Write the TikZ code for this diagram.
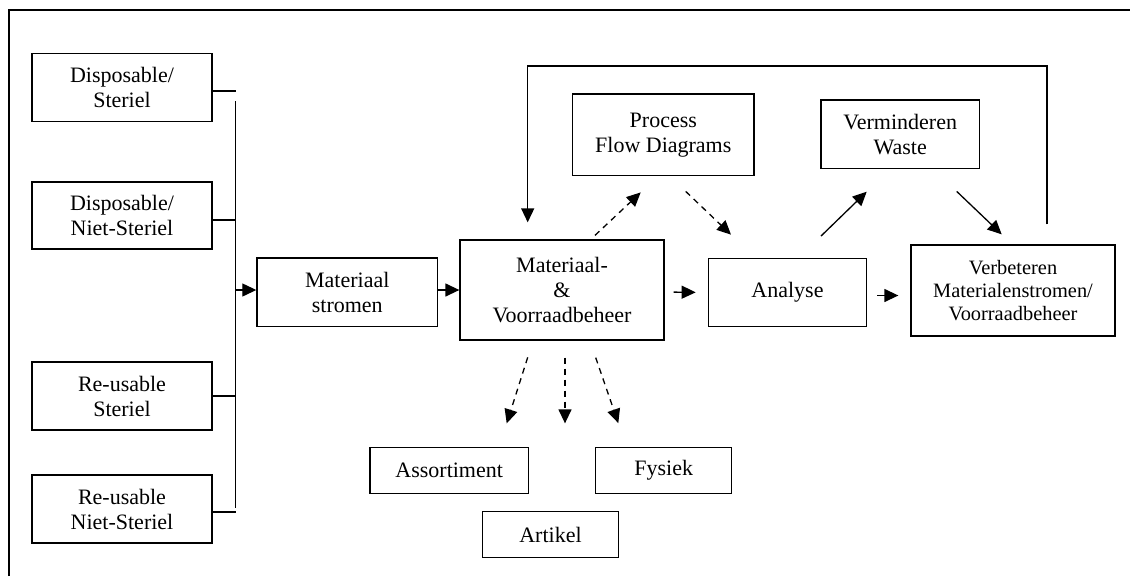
\documentclass[tikz,border=0pt]{standalone}
\usepackage{fontspec}
\setmainfont{Liberation Serif}
\usetikzlibrary{arrows.meta}
\tikzset{
  box/.style={draw, line width=1.3pt, inner sep=0pt, align=center, font=\fontsize{22}{25}\selectfont},
  smallbox/.style={box, font=\fontsize{20.4}{23.3}\selectfont},
  ln/.style={line width=1.3pt},
  arr/.style={ln, -{Triangle[length=14pt,width=13pt]}},
  darr/.style={arr, dash pattern=on 6pt off 5pt},
}
\begin{document}
\begin{tikzpicture}[x=1pt,y=-1pt]
\useasboundingbox (0,0) rectangle (1130,576);
\draw[ln] (9,576) -- (9,10) -- (1130,10);

% left column
\node[box, minimum width=180, minimum height=68] (ds)  at (122,87.3) {Disposable/\\Steriel};
\node[box, minimum width=180, minimum height=67] (dns) at (122,215.5) {Disposable/\\Niet-Steriel};
\node[box, minimum width=180, minimum height=68] (rs)  at (122,396) {Re-usable\\Steriel};
\node[box, minimum width=180, minimum height=68] (rns) at (122,509) {Re-usable\\Niet-Steriel};

% main row
\node[box, minimum width=180.7, minimum height=68.7] (ms) at (347.3,292.3) {Materiaal\\stromen};
\node[box, minimum width=204, minimum height=100] (mv) at (562,290) {Materiaal-\\\&\\Voorraadbeheer};
\node[box, minimum width=181.3, minimum height=81.3] (pfd) at (663.3,134.7) {Process\\Flow Diagrams};
\node[box, minimum width=158.4, minimum height=68.4] (an) at (787.5,292.5) {Analyse};
\node[box, minimum width=158.3, minimum height=68.3] (vw) at (900.2,134.2) {Verminderen\\Waste};
\node[smallbox, minimum width=204, minimum height=91] (vb) at (1013,290.5) {Verbeteren\\Materialenstromen/\\Voorraadbeheer};

% bottom
\node[box, minimum width=158.3, minimum height=45.6] (as) at (449.2,470.5) {Assortiment};
\node[box, minimum width=136, minimum height=45.5] (fy) at (663.7,470.5) {Fysiek};
\node[box, minimum width=135.6, minimum height=45.6] (ar) at (550.5,534.5) {Artikel};

% bus
\coordinate (bt) at (235.5,101);
\coordinate (bb) at (235.5,508);
\coordinate (bj) at (235.5,290);
\draw[ln] (bt) -- (bb);
\draw[ln] ([yshift=-3.7pt]ds.east) -- ++(23.5,0);
\draw[ln] ([yshift=-4.5pt]dns.east) -- ++(23.5,0);
\draw[ln] (rs.east) -- ++(23.5,0);
\draw[ln] ([yshift=-3pt]rns.east) -- ++(23.5,0);
\draw[arr] (bj) -- (bj -| ms.west);

% main arrows
\draw[arr] (ms.east |- bj) -- (mv.west |- bj);
\draw[arr, shorten <=9pt, shorten >=12pt] ([yshift=-2pt]mv.east) -- (an.west);
\draw[arr, shorten <=10pt, shorten >=12pt] ([yshift=-3pt]an.east) -- ([yshift=-5pt]vb.west);
\draw[darr] ([xshift=33pt,yshift=4pt]mv.north) -- ([xshift=-22.6pt,yshift=-16.4pt]pfd.south);
\draw[darr] ([xshift=22.4pt,yshift=-15.4pt]pfd.south) -- ([xshift=-56.5pt,yshift=23pt]an.north);
\draw[arr] ([xshift=33.5pt,yshift=21.6pt]an.north) -- ([xshift=-33.5pt,yshift=-22.7pt]vw.south);
\draw[arr] ([xshift=56.5pt,yshift=-22.4pt]vw.south) -- ([xshift=-11.3pt,yshift=10pt]vb.north);

% feedback
\coordinate (fb) at (787,66);
\draw[arr] ([xshift=34pt,yshift=20pt]vb.north) |- (fb) -| ([xshift=-34.3pt,yshift=17pt]mv.north);

% downward dashed arrows
\draw[darr] ([xshift=-34.3pt,yshift=-16.7pt]mv.south) -- ([xshift=57.5pt,yshift=23.7pt]as.north);
\draw[darr] ([xshift=3pt,yshift=-17pt]mv.south) -- ([xshift=14.5pt,yshift=87.7pt]ar.north);
\draw[darr] ([xshift=33.7pt,yshift=-17pt]mv.south) -- ([xshift=-45.4pt,yshift=24pt]fy.north);
\end{tikzpicture}
\end{document}
